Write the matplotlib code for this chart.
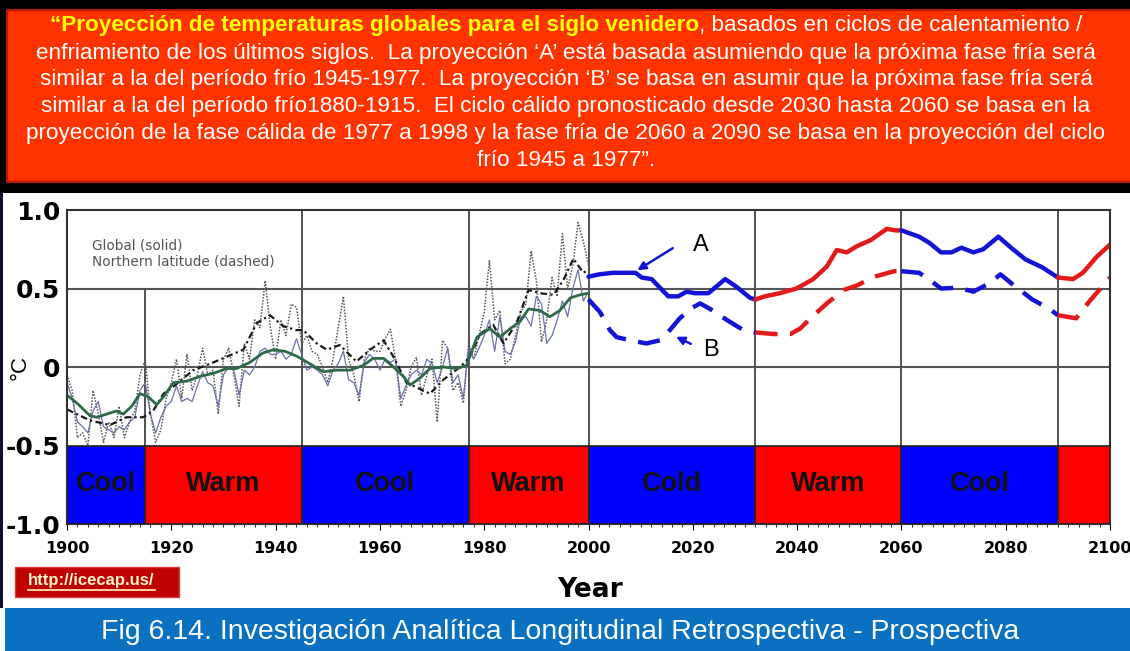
#!/usr/bin/env python3

import matplotlib
matplotlib.use("Agg")
import matplotlib.pyplot as plt
from matplotlib.patches import Rectangle

W, H = 1130, 651

years = list(range(1900, 2001))
nh_annual = [
    -0.05, -0.15, -0.45, -0.42, -0.50, -0.15, -0.30, -0.48, -0.35, -0.45,
    -0.25, -0.45, -0.35, -0.28, -0.05, 0.05, -0.30, -0.48, -0.40, -0.20,
    -0.10, 0.05, -0.20, 0.08, -0.15, -0.05, 0.12, -0.05, -0.02, -0.30,
    0.05, 0.12, -0.05, -0.25, 0.15, 0.05, 0.30, 0.25, 0.55, 0.25,
    0.05, 0.30, 0.20, 0.40, 0.38, 0.15, 0.20, 0.10, 0.08, 0.00,
    -0.10, 0.05, 0.25, 0.45, 0.05, -0.05, -0.22, 0.05, 0.12, 0.10,
    0.10, 0.18, 0.24, 0.05, -0.25, -0.15, 0.00, 0.06, -0.18, -0.05,
    0.05, -0.35, 0.17, 0.12, -0.15, -0.10, -0.23, 0.15, 0.05, 0.20,
    0.35, 0.68, 0.30, 0.36, 0.02, 0.05, 0.20, 0.35, 0.40, 0.74,
    0.55, 0.16, 0.30, 0.57, 0.45, 0.85, 0.50, 0.65, 0.92, 0.80,
    0.65,
]
global_annual = [
    -0.10, -0.20, -0.35, -0.38, -0.42, -0.28, -0.22, -0.38, -0.40, -0.42,
    -0.38, -0.40, -0.35, -0.32, -0.15, -0.10, -0.30, -0.42, -0.32, -0.25,
    -0.22, -0.12, -0.22, -0.20, -0.22, -0.12, -0.03, -0.10, -0.12, -0.25,
    -0.05, 0.00, -0.02, -0.18, -0.02, -0.05, 0.00, 0.10, 0.12, 0.08,
    0.08, 0.10, 0.05, 0.08, 0.18, 0.08, -0.02, 0.00, -0.02, -0.05,
    -0.12, -0.02, 0.02, 0.10, -0.08, -0.10, -0.18, 0.03, 0.08, 0.05,
    -0.02, 0.05, 0.03, 0.05, -0.20, -0.12, -0.05, -0.02, -0.05, 0.05,
    0.02, -0.10, 0.00, 0.12, -0.10, -0.05, -0.20, 0.12, 0.05, 0.12,
    0.20, 0.30, 0.10, 0.32, 0.10, 0.08, 0.16, 0.32, 0.32, 0.26,
    0.45, 0.40, 0.15, 0.20, 0.30, 0.42, 0.32, 0.50, 0.62, 0.42,
    0.48,
]

global_smooth_years = [
    1900, 1901.9, 1904.4, 1905.7, 1907.6, 1909.5, 1910.8, 1912.4, 1914, 1915.6,
    1917.2, 1918.5, 1920.4, 1923, 1925.5, 1928.1, 1930.6, 1932.5, 1935.1, 1937.6,
    1939.6, 1941.8, 1944, 1946.6, 1949.1, 1951.7, 1954.3, 1956.8, 1958.7, 1960.7,
    1962.6, 1964.5, 1965.8, 1967.7, 1969.6, 1972.2, 1974.7, 1976.6, 1978.6, 1981.1,
    1983, 1985, 1986.9, 1988.5, 1990.7, 1992.6, 1994.5, 1996.5, 1998.4, 2000,
]
global_smooth = [
    -0.18, -0.23, -0.31, -0.32, -0.30, -0.28, -0.30, -0.25, -0.17, -0.19,
    -0.24, -0.19, -0.10, -0.09, -0.06, -0.04, -0.01, -0.01, 0.03, 0.09,
    0.11, 0.10, 0.07, 0.02, -0.03, -0.02, -0.02, 0.01, 0.055, 0.055,
    0.00, -0.06, -0.115, -0.07, -0.01, 0.00, -0.01, 0.01, 0.19, 0.245,
    0.19, 0.245, 0.29, 0.37, 0.36, 0.32, 0.36, 0.44, 0.46, 0.47,
]

nh_smooth_years = [
    1900, 1904.4, 1908.2, 1911.4, 1914.6, 1916.5, 1918.5, 1920.4, 1924.2, 1927.4,
    1930.6, 1933.8, 1936.4, 1938.9, 1941.5, 1944, 1945.3, 1947.9, 1949.8, 1952.3,
    1955.5, 1958.1, 1960.7, 1962.6, 1965.1, 1969.6, 1972.2, 1975.4, 1977.3, 1979.2,
    1981.7, 1983.7, 1986.2, 1988.5, 1990.7, 1993.3, 1995.2, 1997.1, 1999, 2000,
]
nh_smooth = [
    -0.27, -0.34, -0.37, -0.32, -0.32, -0.28, -0.17, -0.125, -0.02, 0.02,
    0.065, 0.11, 0.28, 0.33, 0.26, 0.235, 0.235, 0.15, 0.11, 0.14,
    0.035, 0.11, 0.17, 0.065, -0.10, -0.17, -0.08, 0.00, 0.065, 0.21,
    0.27, 0.15, 0.28, 0.49, 0.47, 0.46, 0.555, 0.69, 0.60, 0.62,
]

# projections to 2100
proj_a_years = [
    2000, 2002, 2004.7, 2009, 2010.2, 2012.1, 2015.3, 2017.2, 2018.8, 2020.4,
    2023, 2026.2, 2028.4, 2031, 2032, 2033.8, 2036.7, 2039.9, 2043.1, 2045.7,
    2047.6, 2049.5, 2051.5, 2054.2, 2057.2, 2058.9, 2060, 2063.4, 2065.4, 2067.6,
    2069.6, 2071.5, 2073.8, 2075.7, 2078.6, 2081.2, 2083.8, 2087, 2090, 2092.9,
    2094.8, 2097.4, 2100,
]
proj_a = [
    0.575, 0.59, 0.60, 0.60, 0.57, 0.56, 0.45, 0.45, 0.48, 0.47,
    0.47, 0.56, 0.51, 0.44, 0.43, 0.45, 0.47, 0.50, 0.56, 0.64,
    0.745, 0.73, 0.77, 0.81, 0.88, 0.87, 0.87, 0.83, 0.79, 0.73,
    0.73, 0.76, 0.73, 0.75, 0.83, 0.755, 0.685, 0.635, 0.57, 0.56,
    0.60, 0.70, 0.78,
]
proj_b_years = [
    2000, 2002.2, 2004.1, 2005.4, 2008, 2011.1, 2013.7, 2015.6, 2017.5, 2019.5,
    2021.4, 2023.3, 2026.5, 2029.7, 2032, 2035.5, 2038.7, 2040.6, 2043.2, 2045.7,
    2048.9, 2051.5, 2054.8, 2058.6, 2060, 2063.4, 2066, 2067.6, 2070.9, 2073.8,
    2076.7, 2079, 2081.2, 2085.1, 2088.4, 2090, 2093.5, 2096.1, 2100,
]
proj_b = [
    0.43, 0.35, 0.235, 0.19, 0.17, 0.15, 0.17, 0.235, 0.31, 0.37,
    0.405, 0.37, 0.30, 0.235, 0.22, 0.21, 0.21, 0.245, 0.33, 0.405,
    0.49, 0.52, 0.575, 0.61, 0.61, 0.60, 0.54, 0.50, 0.505, 0.48,
    0.53, 0.59, 0.53, 0.43, 0.37, 0.33, 0.31, 0.42, 0.57,
]

# climate phases along the bottom band
phase_starts = [1900, 1915, 1945, 1977, 2000, 2032, 2060, 2090]
phase_ends = [1915, 1945, 1977, 2000, 2032, 2060, 2090, 2100]
phase_labels = ["Cool", "Warm", "Cool", "Warm", "Cold", "Warm", "Cool", ""]
phase_warm = [False, True, False, True, False, True, False, True]

x_ticks = list(range(1900, 2101, 20))
y_ticks = [1.0, 0.5, 0.0, -0.5, -1.0]
y_tick_labels = ["1.0", "0.5", "0", "-0.5", "-1.0"]

header_lead = "\u201cProyecci\u00f3n de temperaturas globales para el siglo venidero"
header_rest = ", basados en ciclos de calentamiento /"
header_lines = [
    "enfriamiento de los \u00faltimos siglos.  La proyecci\u00f3n \u2018A\u2019 est\u00e1 basada asumiendo que la pr\u00f3xima fase fr\u00eda ser\u00e1",
    "similar a la del per\u00edodo fr\u00edo 1945-1977.  La proyecci\u00f3n \u2018B\u2019 se basa en asumir que la pr\u00f3xima fase fr\u00eda ser\u00e1",
    "similar a la del per\u00edodo fr\u00edo1880-1915.  El ciclo c\u00e1lido pronosticado desde 2030 hasta 2060 se basa en la",
    "proyecci\u00f3n de la fase c\u00e1lida de 1977 a 1998 y la fase fr\u00eda de 2060 a 2090 se basa en la proyecci\u00f3n del ciclo",
    "fr\u00edo 1945 a 1977\u201d.",
]
caption = "Fig 6.14. Investigaci\u00f3n Anal\u00edtica Longitudinal Retrospectiva - Prospectiva"

BLUE = "#0000ff"
RED = "#ff0000"
LINE_BLUE = "#1414d6"
LINE_RED = "#e41a1a"
SANS = ["Liberation Sans", "DejaVu Sans"]


def fx(px):
    return px / W


def fy(py):
    return 1 - py / H


def split_by_phase(xs, ys):
    # cut a projection into pieces, one per phase, sharing the boundary points
    pieces = []
    for start, end, warm in zip(phase_starts, phase_ends, phase_warm):
        seg = [(x, y) for x, y in zip(xs, ys) if start <= x <= end]
        if len(seg) > 1:
            pieces.append(([p[0] for p in seg], [p[1] for p in seg], warm))
    return pieces


def draw_header(fig):
    fig.add_artist(Rectangle((0, fy(193)), 1, 193 / H, transform=fig.transFigure,
                             facecolor="black", edgecolor="none"))
    fig.add_artist(Rectangle((fx(7), fy(182)), 1, 172 / H, transform=fig.transFigure,
                             facecolor="#ff3300", edgecolor="#b81a00", lw=1.5))

    size = 16.2
    renderer = fig.canvas.get_renderer()
    t1 = fig.text(0, fy(26), header_lead, color="#ffff00", fontsize=size,
                  fontweight="bold", family=SANS, va="center")
    t2 = fig.text(0, fy(26), header_rest, color="white", fontsize=size,
                  family=SANS, va="center")
    w1 = t1.get_window_extent(renderer).width
    w2 = t2.get_window_extent(renderer).width
    x0 = 566 - (w1 + w2) / 2
    t1.set_x(fx(x0))
    t2.set_x(fx(x0 + w1))

    for i, line in enumerate(header_lines):
        fig.text(fx(566), fy(53 + i * 26.8), line, color="white", fontsize=size,
                 family=SANS, ha="center", va="center")


def draw_footer(fig):
    fig.add_artist(Rectangle((0, fy(608)), 3 / W, (608 - 193) / H,
                             transform=fig.transFigure, facecolor="#101030",
                             edgecolor="none"))
    fig.add_artist(Rectangle((fx(5), 0), 1, 43 / H, transform=fig.transFigure,
                             facecolor="#0a70c0", edgecolor="none"))
    fig.text(fx(560), fy(632), caption, color="white", fontsize=20.5,
             family=SANS, ha="center", va="center")

    fig.add_artist(Rectangle((fx(15), fy(597)), 164 / W, 30 / H,
                             transform=fig.transFigure, facecolor="#c00000",
                             edgecolor="#d84040", lw=1))
    link = fig.text(fx(28), fy(581), "http://icecap.us/", color="#fff6c8",
                    fontsize=12, fontweight="bold", family=SANS, va="center")
    link.set_url("http://icecap.us/")
    box = link.get_window_extent(fig.canvas.get_renderer())
    fig.add_artist(plt.Line2D([box.x0 / W, box.x1 / W], [fy(590), fy(590)],
                              transform=fig.transFigure, color="#fff6c8", lw=1.2))

    fig.text(fx(590), fy(590), "Year", fontsize=19, fontweight="bold",
             family="DejaVu Sans", ha="center", va="center")


def draw_chart(fig):
    ax = fig.add_axes([fx(67), fy(524), (1110 - 67) / W, (524 - 210) / H])
    ax.set_xlim(1900, 2100)
    ax.set_ylim(-1.0, 1.0)

    # phase band
    for start, end, label, warm in zip(phase_starts, phase_ends, phase_labels, phase_warm):
        ax.add_patch(Rectangle((start, -1.0), end - start, 0.5,
                               facecolor=RED if warm else BLUE,
                               edgecolor="#222222", lw=1.2, zorder=3))
        if label:
            ax.text((start + end) / 2, -0.745, label, fontsize=19.5,
                    fontweight="bold", family=SANS,
                    color="#111111", ha="center", va="center", zorder=4)

    # grid
    for x in phase_starts[1:]:
        top = 0.5 if x == 1915 else 1.0
        ax.plot([x, x], [-0.5, top], color="#333333", lw=1.2, zorder=1)
    for y in (0.5, 0.0):
        ax.axhline(y, color="#555555", lw=1.5, zorder=1)

    # observed curves
    ax.plot(years, nh_annual, color="#555555", lw=1.1, ls=(0, (1, 1)), zorder=2)
    ax.plot(years, global_annual, color="#6a72a8", lw=0.9, zorder=2)
    ax.plot(nh_smooth_years, nh_smooth, color="#1a1a1a", lw=1.6,
            ls=(0, (3, 1.5, 1, 1.5)), zorder=2)
    ax.plot(global_smooth_years, global_smooth, color="#2d6a4a", lw=2.0, zorder=2)

    # projections A (solid) and B (dashed)
    for xs, ys, warm in split_by_phase(proj_a_years, proj_a):
        ax.plot(xs, ys, color=LINE_RED if warm else LINE_BLUE, lw=3.2,
                solid_capstyle="round", zorder=2)
    for xs, ys, warm in split_by_phase(proj_b_years, proj_b):
        ax.plot(xs, ys, color=LINE_RED if warm else LINE_BLUE, lw=3.2,
                dashes=(5, 2.8), zorder=2)

    arrow = dict(arrowstyle="-|>", color=LINE_BLUE, lw=1.8, mutation_scale=12)
    ax.annotate("", xy=(2008.9, 0.607), xytext=(2016.6, 0.766), arrowprops=arrow)
    ax.annotate("", xy=(2016.3, 0.20), xytext=(2020.1, 0.14), arrowprops=arrow)
    ax.text(2020.1, 0.78, "A", fontsize=17, family=SANS, ha="left", va="center")
    ax.text(2022.0, 0.11, "B", fontsize=17, family=SANS, ha="left", va="center")

    ax.text(1904.8, 0.775, "Global (solid)", fontsize=9.8, color="#555555",
            family="DejaVu Sans", va="center")
    ax.text(1904.8, 0.67, "Northern latitude (dashed)", fontsize=9.8, color="#555555",
            family="DejaVu Sans", va="center")

    # axes styling
    ax.set_xticks(x_ticks)
    ax.set_xticklabels([str(t) for t in x_ticks], fontsize=11.5, fontweight="bold",
                       family="DejaVu Sans")
    ax.set_xticks(range(1900, 2101, 2), minor=True)
    ax.tick_params(axis="x", which="major", length=4, pad=8, direction="out")
    ax.tick_params(axis="x", which="minor", length=2.5, direction="out")
    ax.set_yticks(y_ticks)
    ax.set_yticklabels(y_tick_labels, fontsize=18, fontweight="bold",
                       family="DejaVu Sans")
    ax.tick_params(axis="y", length=0, pad=5)
    for spine in ax.spines.values():
        spine.set_color("#333333")
        spine.set_linewidth(1.5)

    fig.text(fx(20), fy(368), "\u00b0C", fontsize=16, rotation=90,
             family=SANS, ha="center", va="center")
    return ax


def main():
    fig = plt.figure(figsize=(W / 100, H / 100), dpi=100)
    fig.patch.set_facecolor("white")
    draw_header(fig)
    draw_chart(fig)
    draw_footer(fig)
    fig.savefig("out.png", dpi=100)


if __name__ == "__main__":
    main()
